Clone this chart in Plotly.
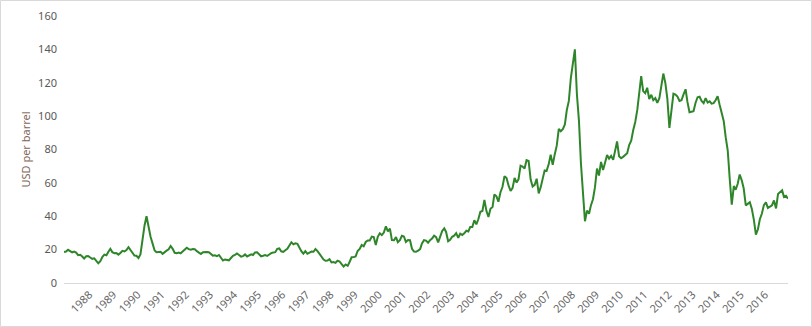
import pandas as pd
import plotly.graph_objects as go

# Monthly Brent spot price (USD per barrel), May 1987 - May 2017
start_month = "1987-05-01"
prices = [
    # 1987 May-Dec
    18.6, 18.9, 19.9, 19.0, 18.3, 18.8, 18.2, 16.7,
    # 1988
    16.9, 15.9, 14.7, 16.0, 16.1, 15.3, 14.5, 14.8, 13.3, 11.8, 13.1, 15.6,
    # 1989
    17.0, 16.6, 18.6, 20.5, 18.5, 17.9, 18.0, 17.0, 18.0, 19.3, 18.9, 19.8,
    # 1990
    21.5, 19.5, 18.4, 16.5, 16.3, 15.0, 17.1, 27.1, 34.5, 40.0, 33.0, 27.7,
    # 1991
    23.6, 19.5, 18.4, 18.7, 18.7, 17.5, 18.7, 19.4, 20.2, 22.2, 20.5, 18.1,
    # 1992
    17.9, 18.3, 17.8, 19.0, 19.8, 21.1, 20.3, 19.9, 20.3, 20.2, 19.1, 18.2,
    # 1993
    17.4, 18.5, 18.7, 18.6, 18.4, 17.6, 16.4, 16.6, 16.1, 16.8, 15.4, 13.5,
    # 1994
    14.1, 13.7, 13.6, 15.0, 16.3, 16.9, 17.7, 16.8, 15.8, 16.1, 17.1, 15.9,
    # 1995
    16.5, 17.2, 16.8, 18.3, 18.4, 17.2, 16.0, 16.3, 16.7, 16.2, 17.1, 17.9,
    # 1996
    18.3, 18.5, 20.5, 20.7, 19.0, 18.6, 19.6, 20.5, 22.5, 24.4, 23.2, 23.8,
    # 1997
    23.5, 20.9, 19.1, 17.6, 19.1, 17.5, 18.4, 18.8, 18.7, 20.4, 19.1, 17.4,
    # 1998
    15.4, 14.1, 13.3, 13.5, 14.3, 12.3, 12.6, 12.1, 13.4, 12.9, 11.3, 9.9,
    # 1999
    11.1, 10.3, 12.6, 15.4, 15.5, 15.9, 19.2, 20.4, 22.8, 22.0, 24.6, 25.5,
    # 2000
    25.5, 27.8, 27.5, 22.8, 27.7, 29.8, 28.7, 30.2, 34.0, 31.0, 32.6, 25.7,
    # 2001
    25.6, 27.5, 24.5, 25.7, 28.3, 27.9, 24.6, 25.7, 25.6, 20.5, 18.8, 18.7,
    # 2002
    19.4, 20.3, 23.7, 25.7, 25.4, 24.1, 25.7, 26.7, 28.4, 27.5, 24.3, 28.3,
    # 2003
    31.2, 32.8, 30.6, 25.0, 25.9, 27.7, 28.4, 29.9, 27.1, 29.6, 28.8, 29.8,
    # 2004
    31.3, 30.9, 33.6, 33.6, 37.6, 35.2, 38.2, 42.7, 43.2, 49.8, 43.1, 39.6,
    # 2005
    44.5, 45.5, 53.1, 51.9, 48.7, 54.4, 57.5, 64.0, 62.9, 58.5, 55.2, 56.9,
    # 2006
    63.0, 60.2, 62.1, 70.3, 69.8, 68.6, 73.7, 73.2, 62.0, 57.8, 58.8, 62.5,
    # 2007
    53.7, 57.6, 62.1, 67.5, 67.2, 71.1, 76.9, 70.8, 77.2, 82.3, 92.4, 90.9,
    # 2008
    92.2, 95.0, 103.6, 109.1, 122.8, 133.0, 140.0, 113.2, 97.2, 71.6, 52.5, 37.0,
    # 2009
    43.4, 41.5, 46.5, 50.2, 57.3, 68.6, 64.4, 72.5, 67.7, 72.8, 76.7, 74.5,
    # 2010
    76.2, 73.8, 78.8, 84.8, 76.0, 74.8, 75.6, 77.0, 77.8, 82.7, 85.3, 91.5,
    # 2011
    96.5, 103.7, 114.6, 124.0, 115.0, 113.8, 117.0, 110.2, 112.8, 109.6, 110.8, 107.9,
    # 2012
    110.7, 119.3, 125.5, 119.8, 110.3, 93.0, 102.6, 113.4, 112.9, 111.7, 109.1, 109.5,
    # 2013
    113.0, 116.1, 108.5, 102.3, 102.6, 102.9, 107.9, 111.3, 111.6, 109.1, 107.8, 110.8,
    # 2014
    108.1, 108.9, 107.5, 107.8, 109.5, 112.0, 106.8, 101.6, 97.1, 87.4, 79.4, 62.3,
    # 2015
    47.0, 58.1, 55.9, 59.5, 65.0, 61.5, 56.6, 46.5, 47.6, 48.4, 44.3, 38.0,
    # 2016
    29.0, 32.2, 38.2, 41.6, 46.7, 48.3, 45.0, 45.8, 46.6, 49.5, 44.7, 53.3,
    # 2017 Jan-May
    54.6, 55.5, 51.6, 52.3, 50.5,
]

year_labels = [str(y) for y in range(1988, 2017)]
y_ticks = [0, 20, 40, 60, 80, 100, 120, 140, 160]

dates = pd.date_range(start_month, periods=len(prices), freq="MS") + pd.Timedelta(days=14)
tick_dates = [pd.Timestamp(f"{y}-06-01") for y in year_labels]

fig = go.Figure()
fig.add_trace(go.Scatter(
    x=dates, y=prices, mode="lines",
    line=dict(color="#2F862A", width=2),
    showlegend=False, hoverinfo="x+y",
))

W, H = 812, 327
L, R, T, B = 64, 24, 16, 44
pw, ph = W - L - R, H - T - B

fig.update_layout(
    width=W, height=H,
    margin=dict(l=L, r=R, t=T, b=B),
    paper_bgcolor="white", plot_bgcolor="white",
    font=dict(family="Noto Sans, Open Sans, sans-serif", size=11, color="#595959"),
    xaxis=dict(
        type="date", automargin=False,
        range=[dates[0], dates[-1]],
        tickmode="array", tickvals=tick_dates, ticktext=year_labels,
        tickangle=-45, showgrid=False, zeroline=False,
        showline=True, linecolor="#d9d9d9", linewidth=1,
        ticks="", tickfont=dict(size=11, color="#666666"),
    ),
    yaxis=dict(
        automargin=False,
        range=[0, 160], tickmode="array", tickvals=y_ticks,
        showgrid=False, zeroline=False, showline=False, ticks="",
        tickfont=dict(size=11, color="#595959"), ticklabelstandoff=6,
        title=dict(text="USD per barrel", font=dict(size=11, color="#7F6555"), standoff=5),
    ),
    shapes=[dict(
        type="rect", xref="paper", yref="paper",
        x0=(0.5 - L) / pw, x1=(W - 0.5 - L) / pw,
        y0=-(B - 0.5) / ph, y1=1 + (T - 0.5) / ph,
        line=dict(color="#d9d9d9", width=1), fillcolor="rgba(0,0,0,0)", layer="below",
    )],
)

fig.write_html("out.html", config={"displayModeBar": False},
               post_script="document.body.style.margin='0';")
